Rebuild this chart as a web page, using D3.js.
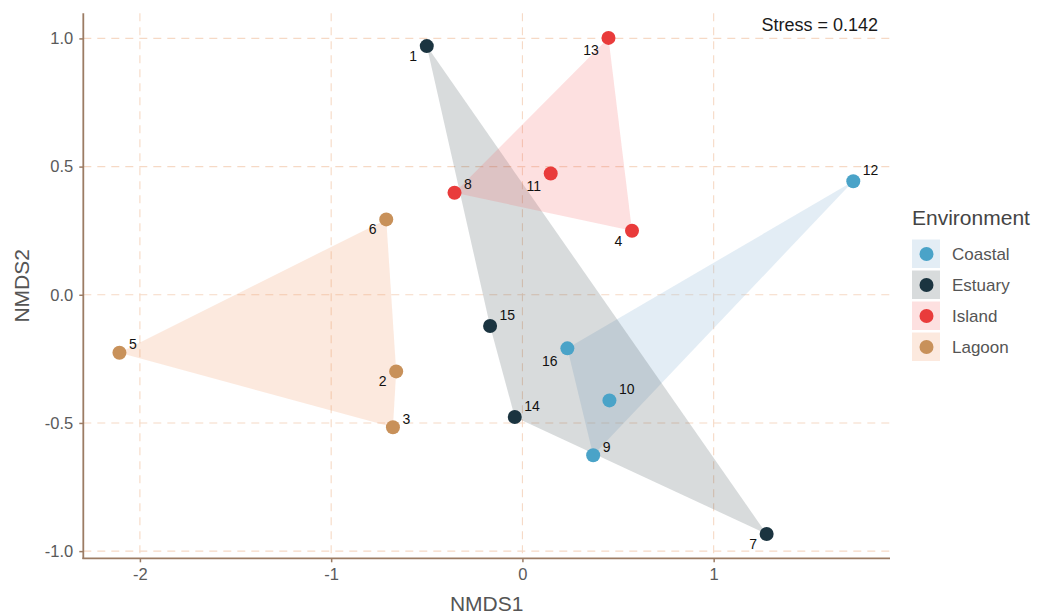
<!DOCTYPE html>
<html><head><meta charset="utf-8">
<script src="https://cdn.jsdelivr.net/npm/d3@7/dist/d3.min.js"></script>
<style>
html,body{margin:0;padding:0;background:#fff;}
svg{display:block;font-family:"Liberation Sans",Arial,Helvetica,sans-serif;}
</style></head>
<body><svg id="chart" width="1037" height="614"></svg>
<script>
// ---- data ----
const sites = [1,2,3,4,5,6,7,8,9,10,11,12,13,14,15,16];
const nmds1 = [-0.500,-0.660,-0.677,0.573,-2.107,-0.712,1.277,-0.355,0.370,0.455,0.148,1.730,0.450,-0.040,-0.169,0.235];
const nmds2 = [0.970,-0.299,-0.517,0.250,-0.226,0.294,-0.933,0.398,-0.626,-0.412,0.473,0.443,1.002,-0.477,-0.122,-0.209];
const environment = ["Estuary","Lagoon","Lagoon","Island","Lagoon","Lagoon","Estuary","Island","Coastal","Coastal","Island","Coastal","Island","Estuary","Estuary","Coastal"];
const groups = ["Coastal","Estuary","Island","Lagoon"];
const xTicks = [-2,-1,0,1];
const yTicks = [-1.0,-0.5,0.0,0.5,1.0];
const stressText = "Stress = 0.142";

// ---- styles ----
const pointColor = {Coastal:"#4aa3c8", Estuary:"#1b3440", Island:"#e93b3b", Lagoon:"#c8915a"};
const hullColor  = {Coastal:"#a2c3de", Estuary:"#3c4b50", Island:"#f56464", Lagoon:"#f0915a"};
const hullAlpha  = {Coastal:0.3, Estuary:0.2, Island:0.2, Lagoon:0.2};
const labelSide  = {1:"ll",2:"ll",3:"ur",4:"ll",5:"ur",6:"ll",7:"ll",8:"ur",9:"ur",10:"ur",11:"ll",12:"ur",13:"ll",14:"ur",15:"ur",16:"ll"};

const pts = sites.map((s,i)=>({site:s, x:nmds1[i], y:nmds2[i], env:environment[i]}));

const svg = d3.select("#chart");
const panel = {left:83.3, right:890, top:13.3, bottom:558.3};
const x = d3.scaleLinear().domain([-2.296, 1.922]).range([panel.left, panel.right]);
const y = d3.scaleLinear().domain([-1.028, 1.098]).range([panel.bottom, panel.top]);

const gridCol = "#f6d9c5";
const axisCol = "#9c7c64";
const fmt = v => d3.format(".1f")(v).replace("\u2212","-");

// grid
const grid = svg.append("g");
grid.selectAll("line.v").data(xTicks).join("line")
  .attr("x1",d=>x(d)).attr("x2",d=>x(d)).attr("y1",panel.top).attr("y2",panel.bottom)
  .attr("stroke",gridCol).attr("stroke-width",1.1).attr("stroke-dasharray","8,6");
grid.selectAll("line.h").data(yTicks).join("line")
  .attr("y1",d=>y(d)).attr("y2",d=>y(d)).attr("x1",panel.left).attr("x2",panel.right)
  .attr("stroke",gridCol).attr("stroke-width",1.1).attr("stroke-dasharray","8,6");

// hulls
const hullG = svg.append("g");
groups.forEach(g=>{
  const gp = pts.filter(p=>p.env===g).map(p=>[x(p.x), y(p.y)]);
  const hull = d3.polygonHull(gp);
  hullG.append("path")
    .attr("d", "M" + hull.map(p=>p.join(",")).join("L") + "Z")
    .attr("fill", hullColor[g]).attr("fill-opacity", hullAlpha[g]).attr("stroke","none");
});

// axes
const xAxis = d3.axisBottom(x).tickValues(xTicks).tickFormat(d=>String(d).replace("\u2212","-")).tickSize(4).tickPadding(6);
const yAxis = d3.axisLeft(y).tickValues(yTicks).tickFormat(fmt).tickSize(4).tickPadding(6);
const gx = svg.append("g").attr("transform",`translate(0,${panel.bottom})`).call(xAxis);
const gy = svg.append("g").attr("transform",`translate(${panel.left},0)`).call(yAxis);
[gx,gy].forEach(g=>{
  g.select(".domain").remove();
  g.selectAll(".tick line").attr("stroke",axisCol).attr("stroke-width",1.5);
  g.selectAll(".tick text").attr("fill","#5a5a5a").attr("font-size",16.5)
    .attr("font-family","'Liberation Sans',Arial,sans-serif");
});
svg.append("line").attr("x1",panel.left).attr("x2",panel.left).attr("y1",panel.top).attr("y2",panel.bottom+0.75)
  .attr("stroke",axisCol).attr("stroke-width",1.8);
svg.append("line").attr("x1",panel.left-0.9).attr("x2",panel.right).attr("y1",panel.bottom).attr("y2",panel.bottom)
  .attr("stroke",axisCol).attr("stroke-width",1.8);

// axis titles
svg.append("text").attr("x",(panel.left+panel.right)/2).attr("y",611).attr("text-anchor","middle")
  .attr("font-size",21).attr("fill","#555").text("NMDS1");
svg.append("text").attr("transform",`translate(29,${(panel.top+panel.bottom)/2}) rotate(-90)`)
  .attr("text-anchor","middle").attr("font-size",21).attr("fill","#555").text("NMDS2");

// points
svg.append("g").selectAll("circle").data(pts).join("circle")
  .attr("cx",d=>x(d.x)).attr("cy",d=>y(d.y)).attr("r",7)
  .attr("fill",d=>pointColor[d.env]);

// labels
svg.append("g").selectAll("text").data(pts).join("text")
  .attr("x",d=>x(d.x) + (labelSide[d.site]==="ur" ? 9.5 : -9.7))
  .attr("y",d=>{
    const two = String(d.site).length>1;
    return y(d.y) + (labelSide[d.site]==="ur" ? (two?-6:-3.3) : (two?17.5:15));
  })
  .attr("text-anchor",d=>labelSide[d.site]==="ur"?"start":"end")
  .attr("font-size",14).attr("fill","#111").text(d=>d.site);

// stress
svg.append("text").attr("x",878).attr("y",31).attr("text-anchor","end")
  .attr("font-size",18).attr("fill","#1a1a1a").text(stressText);

// legend
const lg = svg.append("g").attr("transform","translate(912,0)");
lg.append("text").attr("x",0).attr("y",225).attr("font-size",21).attr("fill","#444").text("Environment");
groups.forEach((g,i)=>{
  const top = 239.5 + i*31;
  lg.append("rect").attr("x",0).attr("y",top).attr("width",28).attr("height",28.5)
    .attr("fill",hullColor[g]).attr("fill-opacity",hullAlpha[g]);
  lg.append("circle").attr("cx",14.5).attr("cy",top+14.5).attr("r",7).attr("fill",pointColor[g]);
  lg.append("text").attr("x",40).attr("y",top+20.5).attr("font-size",17).attr("fill","#555").text(g);
});
</script></body></html>
